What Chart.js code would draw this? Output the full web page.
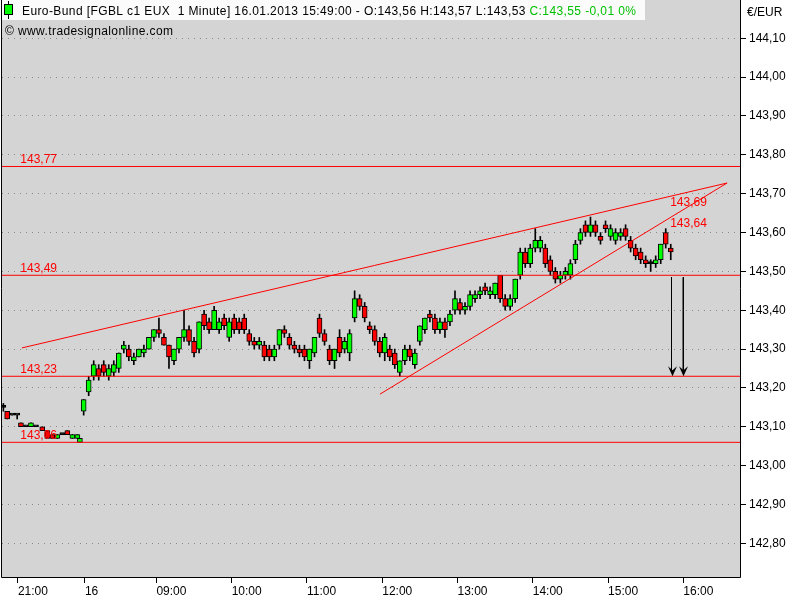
<!DOCTYPE html>
<html lang="de">
<head>
  <meta charset="UTF-8" />
  <title>Euro-Bund 1 Minute</title>
  <script src="https://cdn.jsdelivr.net/npm/chart.js"></script>
  <style>
    html, body { margin: 0; padding: 0; background: #fff; }
    canvas { display: block; }
  </style>
</head>
<body>
  <canvas id="chart" width="800" height="600"></canvas>

  <script>
    // bar position in trading minutes (0 = session break 22:00 / 08:00)
    const barPos = [
      -62, -59, -55, -51, -48, -44, -40, -36, -31, -27, -23, -19, -15, -11, -7, -3, -1,
      2, 6, 10, 14, 18, 22, 26, 30, 34, 38, 42, 46, 50, 54, 58, 62, 66, 70, 74, 78,
      82, 86, 90, 94, 98, 102, 106, 110, 114, 118, 122, 126, 130, 134, 138, 142, 146, 150, 154, 158,
      162, 166, 170, 174, 178, 182, 186, 190, 194, 198, 202, 206, 210, 214, 218, 222, 226, 230, 234, 238,
      242, 246, 250, 254, 258, 262, 266, 270, 274, 278, 282, 286, 290, 294, 298, 302, 306, 310, 314, 318,
      322, 326, 330, 334, 338, 342, 346, 350, 354, 358, 362, 366, 370, 374, 378, 382, 386, 390, 394, 398,
      402, 406, 410, 414, 418, 422, 426, 430, 434, 438, 442, 446, 450, 454, 458, 462, 466, 470
    ];
    const opens = [
      143.15, 143.14, 143.13, 143.13, 143.11, 143.10, 143.10, 143.10, 143.10, 143.09, 143.08, 143.07, 143.08, 143.09, 143.07, 143.07, 143.06,
      143.14, 143.19, 143.23, 143.25, 143.26, 143.23, 143.24, 143.25, 143.30, 143.30, 143.27, 143.28, 143.29, 143.30, 143.33, 143.35, 143.33, 143.31, 143.27, 143.30,
      143.33, 143.35, 143.32, 143.30, 143.39, 143.37, 143.35, 143.35, 143.38, 143.33, 143.38, 143.37, 143.38, 143.34, 143.32, 143.31, 143.31, 143.30, 143.28, 143.31,
      143.35, 143.33, 143.31, 143.30, 143.30, 143.27, 143.29, 143.38, 143.34, 143.30, 143.27, 143.33, 143.30, 143.29, 143.38, 143.43, 143.41, 143.36, 143.35, 143.32,
      143.29, 143.30, 143.29, 143.24, 143.27, 143.30, 143.26, 143.32, 143.35, 143.39, 143.38, 143.35, 143.37, 143.37, 143.40, 143.42, 143.40, 143.41, 143.43, 143.44,
      143.46, 143.44, 143.44, 143.49, 143.43, 143.41, 143.43, 143.49, 143.55, 143.52, 143.56, 143.56, 143.56, 143.53, 143.50, 143.48, 143.49, 143.49, 143.53, 143.58,
      143.62, 143.60, 143.62, 143.59, 143.62, 143.59, 143.58, 143.59, 143.61, 143.58, 143.56, 143.55, 143.53, 143.52, 143.52, 143.53, 143.60, 143.56
    ];
    const highs = [
      143.16, 143.14, 143.13, 143.13, 143.11, 143.10, 143.11, 143.10, 143.10, 143.09, 143.08, 143.08, 143.08, 143.09, 143.08, 143.08, 143.07,
      143.17, 143.23, 143.27, 143.26, 143.27, 143.26, 143.27, 143.29, 143.32, 143.31, 143.29, 143.30, 143.31, 143.33, 143.35, 143.38, 143.34, 143.31, 143.30, 143.33,
      143.40, 143.36, 143.33, 143.37, 143.40, 143.38, 143.41, 143.38, 143.39, 143.38, 143.39, 143.38, 143.39, 143.35, 143.33, 143.33, 143.32, 143.31, 143.31, 143.35,
      143.36, 143.34, 143.32, 143.31, 143.31, 143.30, 143.33, 143.39, 143.35, 143.31, 143.30, 143.35, 143.33, 143.35, 143.45, 143.44, 143.42, 143.37, 143.36, 143.33,
      143.34, 143.31, 143.30, 143.27, 143.31, 143.31, 143.30, 143.36, 143.38, 143.40, 143.39, 143.38, 143.38, 143.40, 143.45, 143.43, 143.42, 143.45, 143.45, 143.46,
      143.47, 143.46, 143.47, 143.49, 143.44, 143.44, 143.48, 143.56, 143.56, 143.57, 143.61, 143.59, 143.57, 143.54, 143.51, 143.50, 143.51, 143.53, 143.58, 143.61,
      143.63, 143.64, 143.63, 143.60, 143.63, 143.62, 143.61, 143.61, 143.62, 143.59, 143.57, 143.56, 143.54, 143.53, 143.54, 143.57, 143.61, 143.57
    ];
    const lows = [
      143.14, 143.12, 143.13, 143.12, 143.10, 143.10, 143.10, 143.10, 143.09, 143.07, 143.07, 143.07, 143.08, 143.08, 143.07, 143.07, 143.06,
      143.13, 143.18, 143.22, 143.22, 143.23, 143.22, 143.23, 143.24, 143.29, 143.27, 143.26, 143.28, 143.28, 143.30, 143.32, 143.33, 143.31, 143.25, 143.26, 143.29,
      143.32, 143.31, 143.28, 143.29, 143.35, 143.34, 143.35, 143.34, 143.35, 143.32, 143.34, 143.34, 143.34, 143.31, 143.30, 143.30, 143.27, 143.27, 143.27, 143.30,
      143.33, 143.30, 143.29, 143.28, 143.27, 143.25, 143.28, 143.33, 143.31, 143.26, 143.25, 143.28, 143.29, 143.27, 143.37, 143.40, 143.37, 143.34, 143.31, 143.28,
      143.27, 143.27, 143.25, 143.23, 143.26, 143.27, 143.25, 143.31, 143.34, 143.37, 143.34, 143.34, 143.33, 143.36, 143.39, 143.39, 143.39, 143.40, 143.42, 143.43,
      143.44, 143.43, 143.43, 143.42, 143.40, 143.40, 143.42, 143.48, 143.51, 143.51, 143.55, 143.55, 143.51, 143.49, 143.47, 143.47, 143.48, 143.48, 143.52, 143.57,
      143.59, 143.59, 143.59, 143.57, 143.60, 143.58, 143.57, 143.58, 143.58, 143.55, 143.53, 143.52, 143.51, 143.50, 143.51, 143.52, 143.56, 143.53
    ];
    const closes = [
      143.15, 143.12, 143.13, 143.13, 143.10, 143.10, 143.11, 143.10, 143.09, 143.07, 143.07, 143.08, 143.08, 143.08, 143.08, 143.08, 143.07,
      143.17, 143.22, 143.26, 143.23, 143.24, 143.25, 143.26, 143.29, 143.31, 143.28, 143.28, 143.30, 143.30, 143.33, 143.35, 143.34, 143.31, 143.28, 143.30, 143.33,
      143.35, 143.32, 143.29, 143.37, 143.36, 143.35, 143.40, 143.37, 143.36, 143.37, 143.35, 143.35, 143.35, 143.32, 143.31, 143.32, 143.28, 143.28, 143.30, 143.35,
      143.34, 143.31, 143.30, 143.29, 143.28, 143.30, 143.33, 143.34, 143.32, 143.27, 143.30, 143.29, 143.32, 143.34, 143.43, 143.41, 143.38, 143.35, 143.32, 143.29,
      143.33, 143.28, 143.26, 143.27, 143.30, 143.28, 143.29, 143.36, 143.38, 143.38, 143.35, 143.37, 143.35, 143.39, 143.43, 143.40, 143.41, 143.44, 143.44, 143.45,
      143.45, 143.45, 143.47, 143.43, 143.41, 143.43, 143.48, 143.55, 143.52, 143.56, 143.58, 143.58, 143.52, 143.50, 143.48, 143.49, 143.50, 143.52, 143.57, 143.60,
      143.60, 143.62, 143.60, 143.58, 143.61, 143.61, 143.60, 143.60, 143.59, 143.56, 143.54, 143.53, 143.52, 143.52, 143.53, 143.57, 143.57, 143.55
    ];

    const tickPos = [-50.4, 3, 60, 120, 180, 240, 300, 360, 420, 480];
    const tickLabels = ['21:00', '16', '09:00', '10:00', '11:00', '12:00', '13:00', '14:00', '15:00', '16:00'];
    const priceTicks = [142.8, 142.9, 143.0, 143.1, 143.2, 143.3, 143.4, 143.5, 143.6, 143.7, 143.8, 143.9, 144.0, 144.1];

    // drawn objects: support / resistance levels, trend lines, target arrows
    const levels = [143.77, 143.49, 143.23, 143.06];
    const upperTrendX = [-47.2, 514.9];
    const upperTrendY = [143.303, 143.7275];
    const lowerTrendX = [238.2, 514.9];
    const lowerTrendY = [143.184, 143.7275];
    const trendLabels = ['143,69', '143,64'];
    const arrowX = [470.6, 480.0];
    const arrowFrom = 143.485;
    const arrowTo = 143.23;

    const xMin = -63.1, xMax = 525.2;
    const yMin = 142.7133, yMax = 144.1986;
    const FONT = '"Liberation Sans", Arial, sans-serif';

    const fmt = v => v.toFixed(2).replace('.', ',');

    const bodyColors = barPos.map((p, i) =>
      closes[i] > opens[i] ? '#00ff00' : (closes[i] < opens[i] ? '#ff0000' : '#000000'));

    const datasets = [
      {
        type: 'bar',
        data: barPos.map((p, i) => ({ x: p, y: [opens[i], closes[i]] })),
        backgroundColor: bodyColors,
        borderColor: '#000',
        borderWidth: 1,
        borderSkipped: false,
        barThickness: 5,
        minBarLength: 2,
        grouped: false,
        order: 1
      },
      {
        type: 'bar',
        data: barPos.map((p, i) => ({ x: p, y: [lows[i], highs[i]] })),
        backgroundColor: '#000',
        borderWidth: 0,
        barThickness: 1,
        grouped: false,
        order: 2
      }
    ];

    levels.forEach(v => datasets.push({
      type: 'line',
      data: [{ x: xMin, y: v }, { x: xMax, y: v }],
      borderColor: '#ff0000', borderWidth: 1, pointRadius: 0, order: 0
    }));
    datasets.push({
      type: 'line',
      data: upperTrendX.map((x, i) => ({ x, y: upperTrendY[i] })),
      borderColor: '#ff0000', borderWidth: 1, pointRadius: 0, order: 0
    });
    datasets.push({
      type: 'line',
      data: lowerTrendX.map((x, i) => ({ x, y: lowerTrendY[i] })),
      borderColor: '#ff0000', borderWidth: 1, pointRadius: 0, order: 0
    });
    arrowX.forEach(x => datasets.push({
      type: 'line',
      data: [{ x, y: arrowFrom }, { x, y: arrowTo + 0.01 }],
      borderColor: '#000', borderWidth: 1, pointRadius: 0, order: 0
    }));

    const backdrop = {
      id: 'backdrop',
      beforeDraw(chart) {
        const { ctx, chartArea: a } = chart;
        ctx.save();
        ctx.fillStyle = '#fff';
        ctx.fillRect(0, 0, chart.width, chart.height);
        ctx.fillStyle = '#d4d4d4';
        ctx.fillRect(a.left, a.top, a.right - a.left, a.bottom - a.top);
        ctx.restore();
      }
    };

    const overlay = {
      id: 'overlay',
      afterDraw(chart) {
        const { ctx, chartArea: a } = chart;
        const sx = chart.scales.x, sy = chart.scales.y;
        ctx.save();

        // frame
        ctx.strokeStyle = '#000';
        ctx.lineWidth = 1;
        ctx.beginPath();
        ctx.moveTo(1.5, 0); ctx.lineTo(1.5, a.bottom + 0.5);
        ctx.lineTo(a.right + 0.5, a.bottom + 0.5); ctx.lineTo(a.right + 0.5, 0);
        ctx.stroke();

        // level labels
        ctx.font = '12px ' + FONT;
        ctx.fillStyle = '#ff0000';
        ctx.textBaseline = 'alphabetic';
        levels.forEach(v => {
          ctx.fillText(fmt(v), sx.getPixelForValue(-48.5), sy.getPixelForValue(v) - 3);
        });
        // trend line labels
        ctx.textBaseline = 'top';
        const tx = 469.5;
        const upAt = upperTrendY[0] + (upperTrendY[1] - upperTrendY[0]) * (tx - upperTrendX[0]) / (upperTrendX[1] - upperTrendX[0]);
        const loAt = lowerTrendY[0] + (lowerTrendY[1] - lowerTrendY[0]) * (tx - lowerTrendX[0]) / (lowerTrendX[1] - lowerTrendX[0]);
        ctx.fillText(trendLabels[0], sx.getPixelForValue(tx), sy.getPixelForValue(upAt));
        ctx.fillText(trendLabels[1], sx.getPixelForValue(tx), sy.getPixelForValue(loAt));

        // arrow heads
        ctx.fillStyle = '#000';
        arrowX.forEach(x => {
          const px = Math.round(sx.getPixelForValue(x)) + 0.5;
          const py = sy.getPixelForValue(arrowTo);
          ctx.beginPath();
          ctx.moveTo(px, py);
          ctx.lineTo(px - 4.5, py - 10);
          ctx.lineTo(px, py - 6);
          ctx.lineTo(px + 4.5, py - 10);
          ctx.closePath();
          ctx.fill();
        });

        // header box
        ctx.fillStyle = '#fbfbfb';
        ctx.fillRect(2, 0, 643, 20);
        // small candle icon
        ctx.fillStyle = '#000';
        ctx.fillRect(8, 1, 1, 18);
        ctx.fillStyle = '#00ff00';
        ctx.fillRect(4, 4, 9, 11);
        ctx.strokeStyle = '#000';
        ctx.strokeRect(4.5, 4.5, 8, 10);

        ctx.font = '12px ' + FONT;
        ctx.textBaseline = 'alphabetic';
        if ('letterSpacing' in ctx) ctx.letterSpacing = '0.4px';
        const head = 'Euro-Bund [FGBL c1 EUX  1 Minute] 16.01.2013 15:49:00 - O:143,56 H:143,57 L:143,53 ';
        ctx.fillStyle = '#000';
        ctx.fillText(head, 22, 15);
        const w = ctx.measureText(head).width;
        ctx.fillStyle = '#00c000';
        ctx.fillText('C:143,55 -0,01 0%', 22 + w, 15);
        ctx.fillStyle = '#000';
        ctx.fillText('\u00a9 www.tradesignalonline.com', 5, 35);
        if ('letterSpacing' in ctx) ctx.letterSpacing = '0px';

        // unit label of price axis
        ctx.fillText('\u20ac/EUR', 747, 16);
        ctx.restore();
      }
    };

    new Chart(document.getElementById('chart').getContext('2d'), {
      type: 'bar',
      data: { datasets },
      plugins: [backdrop, overlay],
      options: {
        responsive: false,
        animation: false,
        events: [],
        layout: { padding: { left: 2, top: 0, right: 0, bottom: 0 } },
        plugins: { legend: { display: false }, tooltip: { enabled: false } },
        scales: {
          x: {
            type: 'linear',
            min: xMin,
            max: xMax,
            offset: false,
            afterFit: s => {
              s.height = 23;
              s.paddingLeft = 0;
              s.paddingRight = 0;
            },
            afterBuildTicks: s => { s.ticks = tickPos.map(v => ({ value: v })); },
            ticks: {
              callback: (v, i) => tickLabels[i],
              align: 'start',
              autoSkip: false,
              maxRotation: 0,
              padding: 1,
              color: '#000',
              font: { family: FONT, size: 12 }
            },
            grid: { offset: false, drawOnChartArea: false, tickLength: 6, tickColor: '#000' },
            border: { display: false }
          },
          y: {
            type: 'linear',
            position: 'right',
            min: yMin,
            max: yMax,
            afterFit: s => {
              s.width = 60;
              s.paddingTop = 0;
              s.paddingBottom = 0;
            },
            afterBuildTicks: s => { s.ticks = priceTicks.map(v => ({ value: v })); },
            ticks: {
              callback: v => fmt(v),
              padding: 3,
              color: '#000',
              font: { family: FONT, size: 12 }
            },
            grid: { color: '#8a8a8a', tickLength: 6, tickColor: '#000', tickBorderDash: [] },
            border: { display: false, dash: [1, 5] }
          }
        }
      }
    });
  </script>
</body>
</html>
